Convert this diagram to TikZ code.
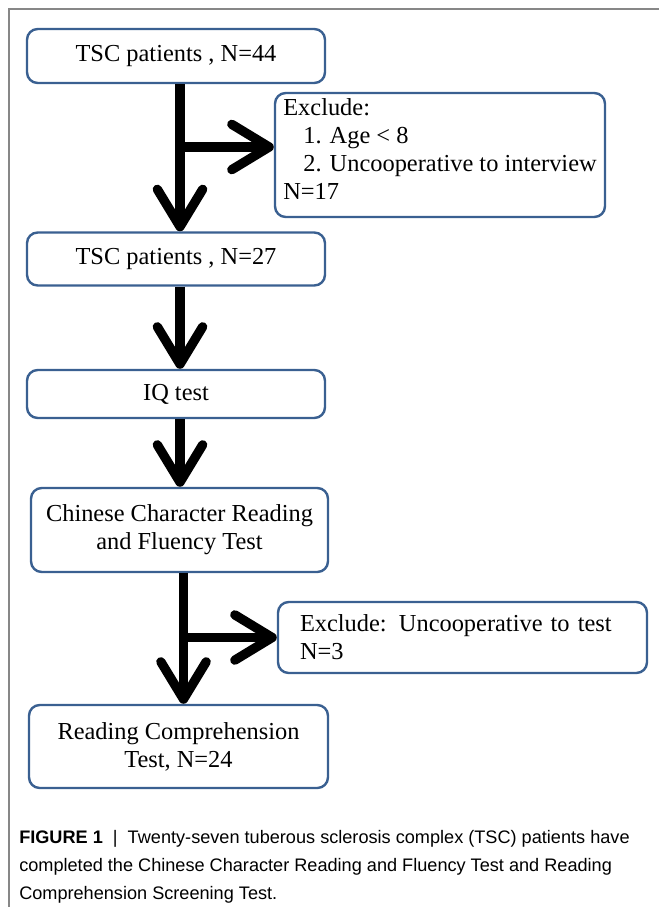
\documentclass[tikz,border=0pt]{standalone}
\usepackage{fontspec}
\setmainfont{Liberation Serif}
\newfontfamily\capfont{Liberation Sans}
\usepackage{tikz}
\usetikzlibrary{arrows.meta, positioning}
\definecolor{boxblue}{RGB}{58,96,145}
\definecolor{framegray}{RGB}{135,135,135}

\begin{document}
\begin{tikzpicture}[x=0.75pt,y=-0.75pt,
    box/.style={draw=boxblue,line width=1.8pt,rounded corners=8pt,fill=white,
        align=center,inner sep=0pt,font=\fontsize{18.3}{21}\selectfont},
    exbox/.style={box,align=left},
    flow/.style={line width=7pt,-{Straight Barb[length=28pt,width=34pt,round]}}]
    \useasboundingbox (0,0) rectangle (659,907);
    % frame of the figure
    \draw[color=framegray,line width=1.1pt] (9,907) -- (9,9) -- (659,9);
    \node[box,at={(176,56)},minimum width=223.5pt,minimum height=40.5pt] (tsc44) {TSC patients , N=44};
    \node[exbox,at={(440,155)},minimum width=247.5pt,minimum height=93pt,text depth=9.5pt] (excl1)
        {Exclude:\\ \hspace*{15pt}1. Age < 8\\ \hspace*{15pt}2. Uncooperative to interview\\ N=17};
    \node[box,at={(176,259)},minimum width=223.5pt,minimum height=39.75pt] (tsc27) {TSC patients , N=27};
    \node[box,at={(176,394)},minimum width=223.5pt,minimum height=36pt] (iq) {IQ test};
    \node[box,at={(179.5,530)},minimum width=222.75pt,minimum height=63pt] (ccrf)
        {Chinese Character Reading\\ and Fluency Test};
    \node[exbox,at={(462.5,637.5)},minimum height=53.25pt,text width=243.75pt,inner xsep=16.5pt] (excl2)
        {Exclude: Uncooperative to test\\ N=3};
    \node[box,at={(178.5,746.5)},minimum width=224.25pt,minimum height=62.25pt] (rc24)
        {Reading Comprehension\\ Test, N=24};
    % arrows down the chart
    \foreach \a/\b in {tsc44/tsc27, tsc27/iq, iq/ccrf, ccrf/rc24}
    \draw[flow] ([xshift=3pt]\a.south) -- ([xshift=3pt]\a.south |- \b.north);
    \coordinate (split1) at (180,147);
    \coordinate (split2) at (180,637.5);
    \draw[flow] (split1) -- (split1 -| excl1.west);
    \draw[flow] (split2) -- (excl2.west);
    \node[anchor=north west,inner sep=0pt,align=left,
        font=\capfont\fontsize{13.6}{21}\selectfont] (caption) at (19,830)
        {\textbf{FIGURE 1} \ | \ Twenty-seven tuberous sclerosis complex (TSC) patients have\\
         completed the Chinese Character Reading and Fluency Test and Reading\\
         Comprehension Screening Test.};
\end{tikzpicture}
\end{document}
